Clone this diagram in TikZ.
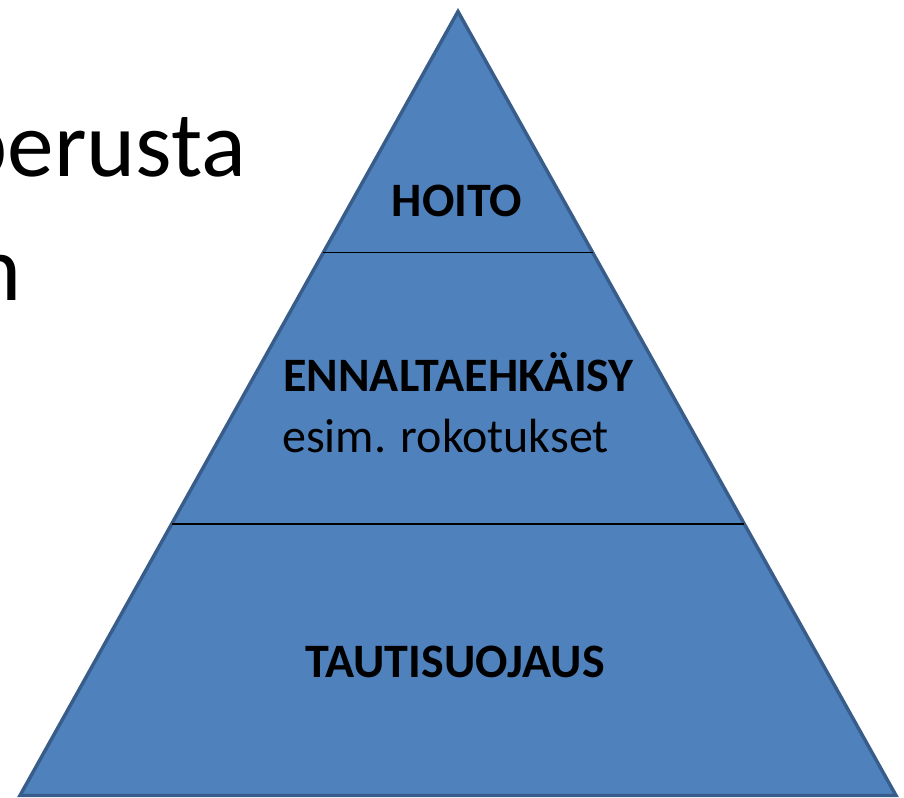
\documentclass[tikz,border=0pt]{standalone}
\usepackage{fontspec}
\setmainfont{Carlito}
\definecolor{pyrfill}{RGB}{79,129,189}
\definecolor{pyrline}{RGB}{56,93,138}
\tikzset{
  layer/.style={font=\fontsize{36}{43}\selectfont\bfseries, inner sep=0.75pt},
  note/.style={font=\fontsize{36}{43}\selectfont, inner sep=0.75pt},
  slide/.style={font=\fontsize{70}{84}\selectfont, inner sep=0pt}
}
\begin{document}
\begin{tikzpicture}[x=0.75pt,y=0.75pt,yscale=-1,xscale=1]
    \useasboundingbox (0,0) rectangle (904,797);
    \clip (0,0) rectangle (904,797);
    %Shape: Triangle
    \coordinate (apex) at (458,11.5);
    \coordinate (bl) at (20,795.5);
    \coordinate (br) at (896,795.5);
    \draw [color=pyrline, line width=2.6pt, line join=miter, fill=pyrfill] (apex) -- (br) -- (bl) -- cycle ;
    %Straight Lines
    \coordinate (t1) at (323.2,252.5);
    \coordinate (t2) at (592.8,252.5);
    \draw [line width=1.1pt] (t1) -- (t2) ;
    %Straight Lines
    \coordinate (m1) at (171.6,524);
    \coordinate (m2) at (744.4,524);
    \draw [line width=1.1pt] (m1) -- (m2) ;
    % Text Node
    \node [layer, anchor=base] (hoito) at (457,216) {HOITO};
    % Text Node
    \node [layer, anchor=base west] (ennalta) at (282,391) {ENNALTAEHKÄISY};
    % Text Node
    \node [note, anchor=base west] (esim) at (281,452) {esim. rokotukset};
    % Text Node
    \node [layer, anchor=base] (tauti) at (455,677) {TAUTISUOJAUS};
    % Text Node
    \node [slide, anchor=base east] (perusta) at (246.5,176) {perusta};
    % Text Node
    \node [slide, anchor=base east] (rivi) at (22,300) {n};
\end{tikzpicture}
\end{document}
